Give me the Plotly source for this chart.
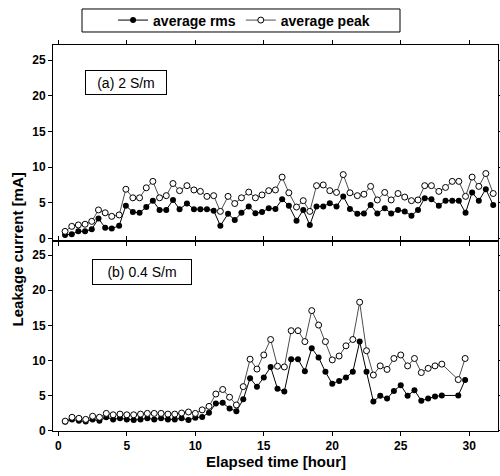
import plotly.graph_objects as go

# ---------------- data ----------------
time_a = [0.49, 0.98, 1.46, 1.95, 2.44, 2.93, 3.42, 3.9, 4.44, 4.93,
          5.44, 5.93, 6.42, 6.9, 7.39, 7.88, 8.37, 8.85, 9.39, 9.9,
          10.37, 10.85, 11.34, 11.83, 12.39, 12.88, 13.37, 13.9, 14.39, 14.87,
          15.36, 15.85, 16.34, 16.83, 17.39, 17.88, 18.36, 18.85, 19.34, 19.82,
          20.31, 20.8, 21.29, 21.83, 22.31, 22.8, 23.29, 23.83, 24.3, 24.8,
          25.29, 25.78, 26.26, 26.75, 27.24, 27.78, 28.27, 28.76, 29.24, 29.73,
          30.21, 30.7, 31.21, 31.75]
rms_a = [0.5, 0.6, 1.0, 1.0, 1.3, 2.8, 1.5, 1.4, 1.8, 4.6,
         3.7, 3.6, 4.4, 5.3, 4.0, 4.0, 5.4, 4.1, 4.9, 4.1,
         4.1, 4.1, 3.9, 1.8, 3.45, 2.6, 3.6, 4.5, 3.55, 3.7,
         4.25, 4.15, 5.5, 4.6, 2.5, 4.0, 1.9, 4.5, 4.5, 4.95,
         4.5, 5.9, 4.15, 3.45, 3.5, 4.7, 3.5, 4.25, 3.5, 4.0,
         3.8, 3.2, 4.0, 5.65, 5.5, 4.6, 5.3, 5.3, 5.3, 3.6,
         6.45, 5.3, 6.9, 4.7]
peak_a = [1.0, 1.7, 1.9, 2.0, 2.4, 4.0, 3.6, 3.1, 3.3, 6.9,
          5.7, 5.7, 7.1, 8.0, 5.7, 6.0, 7.7, 6.7, 7.4, 6.8,
          6.6, 5.9, 6.0, 3.8, 5.9, 4.9, 5.7, 6.5, 5.7, 6.1,
          6.7, 6.8, 8.6, 6.4, 4.4, 5.3, 3.8, 7.4, 7.5, 6.7,
          6.45, 8.95, 6.4, 6.0, 6.2, 7.3, 5.4, 6.45, 5.4, 6.3,
          5.8, 5.3, 5.4, 7.4, 7.4, 6.6, 7.15, 8.0, 8.0, 5.9,
          8.6, 7.3, 9.1, 6.3]

time_b = [0.5, 1.0, 1.5, 2.0, 2.5, 3.0, 3.5, 4.0, 4.5, 5.0,
          5.5, 6.0, 6.5, 7.0, 7.5, 8.0, 8.5, 9.0, 9.5, 10.0,
          10.5, 11.0, 11.5, 12.0, 12.5, 13.0, 13.5, 14.0, 14.5, 15.0,
          15.5, 16.0, 16.5, 17.0, 17.5, 18.0, 18.5, 19.0, 19.5, 20.0,
          20.5, 21.0, 21.5, 22.0, 22.5, 23.0, 23.5, 24.0, 24.5, 25.0,
          25.5, 26.0, 26.5, 27.0, 27.5, 28.0, 29.2, 29.7]
rms_b = [1.3, 1.65, 1.45, 1.35, 1.65, 1.45, 1.95, 1.65, 1.8, 1.65,
         1.55, 1.65, 1.8, 1.65, 1.8, 1.65, 1.65, 1.8, 1.55, 1.9,
         2.0, 2.6, 3.9, 4.0, 3.2, 2.8, 4.5, 7.5, 6.3, 7.6,
         9.1, 6.0, 5.6, 10.2, 10.2, 8.5, 11.75, 10.45, 8.4, 6.7,
         7.1, 7.6, 8.4, 12.7, 8.4, 4.2, 5.0, 4.6, 5.7, 6.5,
         5.0, 5.8, 4.3, 4.6, 4.9, 5.05, 5.05, 7.25]
peak_b = [1.4, 1.95, 1.8, 1.65, 2.1, 1.95, 2.5, 2.3, 2.4, 2.3,
          2.3, 2.4, 2.5, 2.5, 2.5, 2.4, 2.4, 2.55, 2.7, 2.5,
          3.0, 3.5, 5.25, 5.9, 4.8, 3.7, 6.3, 10.2, 8.8, 10.8,
          13.0, 9.2, 9.1, 14.25, 14.25, 12.7, 17.1, 15.05, 12.7, 10.1,
          10.65, 12.1, 13.0, 18.3, 11.4, 7.95, 9.25, 8.75, 10.3, 10.8,
          9.25, 10.3, 8.3, 8.9, 9.25, 9.5, 7.3, 10.3]

series_names = ["average rms", "average peak"]
panel_labels = ["(a) 2 S/m", "(b) 0.4 S/m"]
x_title = "Elapsed time [hour]"
y_title = "Leakage current [mA]"
x_ticks = [0, 5, 10, 15, 20, 25, 30]
y_ticks = [0, 5, 10, 15, 20, 25]

# ---------------- figure ----------------
FONT = "Liberation Sans, Arial, sans-serif"
fig = go.Figure()

rms_style = dict(mode="lines+markers",
                 line=dict(color="black", width=1),
                 marker=dict(symbol="circle", size=6, color="black"))
peak_style = dict(mode="lines+markers",
                  line=dict(color="black", width=0.7),
                  marker=dict(symbol="circle", size=6, color="white",
                              line=dict(color="black", width=1)))

fig.add_trace(go.Scatter(x=time_a, y=rms_a, name=series_names[0], xaxis="x", yaxis="y",
                         legendgroup="rms", **rms_style))
fig.add_trace(go.Scatter(x=time_a, y=peak_a, name=series_names[1], xaxis="x", yaxis="y",
                         legendgroup="peak", **peak_style))
fig.add_trace(go.Scatter(x=time_b, y=rms_b, name=series_names[0], xaxis="x2", yaxis="y2",
                         legendgroup="rms", showlegend=False, **rms_style))
fig.add_trace(go.Scatter(x=time_b, y=peak_b, name=series_names[1], xaxis="x2", yaxis="y2",
                         legendgroup="peak", showlegend=False, **peak_style))

tickfont = dict(family=FONT, size=12, color="black", weight="bold")
common_x = dict(range=[-0.39, 32.1], tickvals=x_ticks, ticks="outside", ticklen=4,
                tickcolor="black", showline=True, linecolor="black", linewidth=1,
                mirror="ticks", showgrid=False, zeroline=False, tickfont=tickfont)
common_y = dict(tickvals=y_ticks, ticks="outside", ticklen=4, tickcolor="black",
                showline=True, linecolor="black", linewidth=1, mirror="ticks",
                showgrid=False, zeroline=False, tickfont=tickfont)

split = 0.4935
fig.update_layout(
    width=500, height=476,
    margin=dict(l=53, r=2, t=45, b=45, autoexpand=False),
    paper_bgcolor="white", plot_bgcolor="white",
    font=dict(family=FONT, color="black"),
    xaxis=dict(anchor="y", showticklabels=False, **common_x),
    yaxis=dict(domain=[split, 1], range=[-0.28, 27.1], anchor="x", **common_y),
    xaxis2=dict(anchor="y2", showticklabels=True, **common_x),
    yaxis2=dict(domain=[0, split], range=[0, 27.06], anchor="x2", **common_y),
    showlegend=True,
    legend=dict(orientation="h", x=0.135, xanchor="left", y=1.0635, yanchor="middle",
                bgcolor="rgba(0,0,0,0)", borderwidth=0,
                font=dict(family=FONT, size=14, color="black", weight="bold"),
                itemwidth=30, tracegroupgap=0),
)

# legend frame
fig.add_shape(type="rect", xref="paper", yref="paper",
              x0=0.0652, x1=0.7798, y0=1.0337, y1=1.0933,
              line=dict(color="black", width=1), fillcolor="rgba(0,0,0,0)")

# panel labels
fig.add_annotation(text=panel_labels[0], xref="paper", yref="paper", x=0.164, y=0.9028,
                   xanchor="center", yanchor="middle", showarrow=False,
                   width=78, height=21, borderpad=1, bordercolor="black", borderwidth=1,
                   bgcolor="white", font=dict(family=FONT, size=14, color="black"))
fig.add_annotation(text=panel_labels[1], xref="paper", yref="paper", x=0.201, y=0.4119,
                   xanchor="center", yanchor="middle", showarrow=False,
                   width=96, height=22, borderpad=1, bordercolor="black", borderwidth=1,
                   bgcolor="white", font=dict(family=FONT, size=14, color="black"))

# axis titles
fig.add_annotation(text=y_title, xref="paper", yref="paper", x=-0.079, y=0.47,
                   xanchor="center", yanchor="middle", textangle=-90, showarrow=False,
                   font=dict(family=FONT, size=15, color="black", weight="bold"))
fig.add_annotation(text=x_title, xref="paper", yref="paper", x=0.5, y=-0.08,
                   xanchor="center", yanchor="middle", showarrow=False,
                   font=dict(family=FONT, size=15, color="black", weight="bold"))

# remove the browser's default page margin so the figure sits at the window origin
fig.write_html("out.html",
               config={"displayModeBar": False},
               post_script="document.body.style.margin='0';document.body.style.padding='0';")
